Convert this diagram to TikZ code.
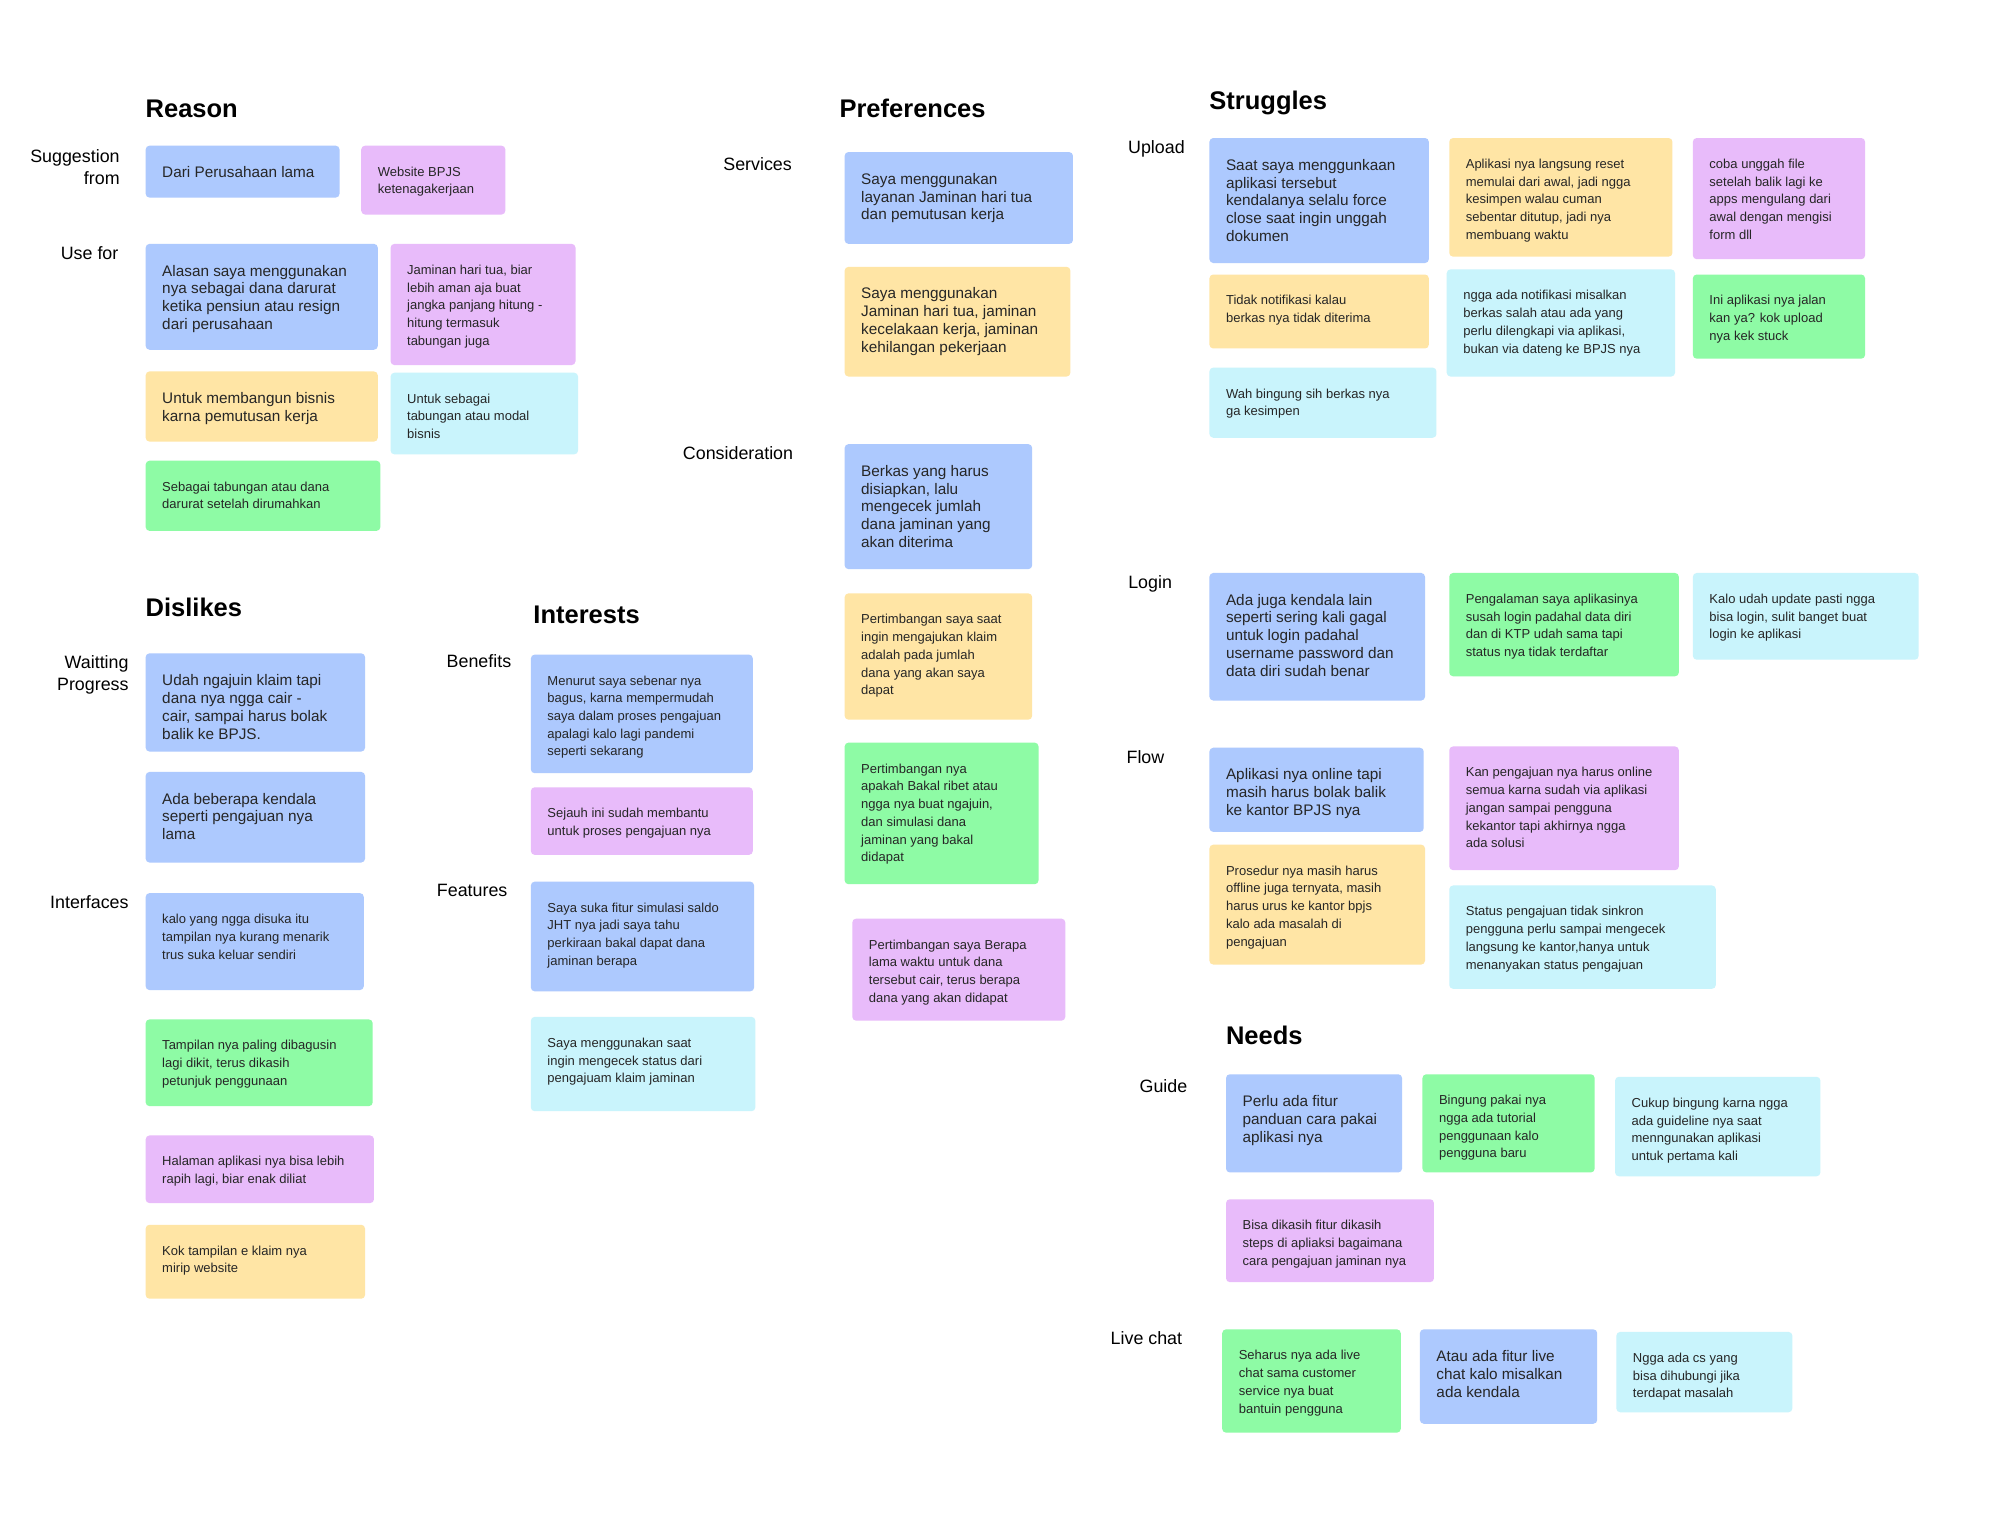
\documentclass[tikz,border=0pt]{standalone}
\usepackage{fontspec}
\setmainfont{Liberation Sans}
\definecolor{cb}{HTML}{ADC9FE}
\definecolor{cy}{HTML}{FFE5A5}
\definecolor{cp}{HTML}{E8BBFA}
\definecolor{cc}{HTML}{C9F4FC}
\definecolor{cg}{HTML}{8EFBA5}
\newcommand\bigf{\fontsize{12}{14}\selectfont}
\newcommand\smf{\fontsize{10.2}{13.9}\selectfont}
\newcommand\nt[8]{%
 \pgfmathsetmacro\nw{#5-#3}\pgfmathsetmacro\nh{#6-#4}%
 \pgfmathsetmacro\tw{#5-#3-26}\pgfmathsetmacro\th{#6-#4-33}%
 \node[note,fill=#2,minimum width=\nw pt,minimum height=\nh pt] (#1) at (#3pt,-#4pt)
  {\parbox[t][\th pt][t]{\tw pt}{\raggedright#7 #8}};}
\newcommand\hd[4]{\node[hdr] (#1) at (#2pt,-#3pt) {#4};}
\newcommand\lb[4]{\node[lbl] (#1) at (#2pt,-#3pt) {#4};}
\tikzset{
 note/.style={anchor=north west,rounded corners=3pt,inner xsep=13pt,inner ysep=16pt,text=black!85},
 hdr/.style={anchor=base west,font=\fontsize{20}{24}\selectfont\bfseries,inner sep=0},
 lbl/.style={anchor=north east,align=right,font=\fontsize{14}{17}\selectfont,inner sep=0}
}
\begin{document}
\begin{tikzpicture}[x=1pt,y=1pt]
\fill[white] (0,0) rectangle (1568,-1195);
\useasboundingbox (0,0) rectangle (1568,-1195);
% Reason
\hd{h1}{114}{92}{Reason}
\lb{l1}{94}{117}{Suggestion\\from}
\nt{n1}{cb}{114}{114}{266}{154}{\bigf}{Dari Perusahaan lama}
\nt{n2}{cp}{283}{114}{396}{168}{\smf}{Website BPJS\\ketenagakerjaan}
\lb{l2}{93}{193}{Use for}
\nt{n3}{cb}{114}{191}{296}{274}{\bigf}{Alasan saya menggunakan\\nya sebagai dana darurat\\ketika pensiun atau resign\\dari perusahaan}
\nt{n4}{cp}{306}{191}{451}{286}{\smf}{Jaminan hari tua, biar\\lebih aman aja buat\\jangka panjang hitung -\\hitung termasuk\\tabungan juga}
\nt{n5}{cy}{114}{291}{296}{346}{\bigf}{Untuk membangun bisnis\\karna pemutusan kerja}
\nt{n6}{cc}{306}{292}{453}{356}{\smf}{Untuk sebagai\\tabungan atau modal\\bisnis}
\nt{n7}{cg}{114}{361}{298}{416}{\smf}{Sebagai tabungan atau dana\\darurat setelah dirumahkan}
% Dislikes
\hd{h2}{114}{483}{Dislikes}
\lb{l3}{101}{514}{Waitting\\Progress}
\nt{n8}{cb}{114}{512}{286}{589}{\bigf}{Udah ngajuin klaim tapi\\dana nya ngga cair -\\cair, sampai harus bolak\\balik ke BPJS.}
\nt{n9}{cb}{114}{605}{286}{676}{\bigf}{Ada beberapa kendala\\seperti pengajuan nya\\lama}
\lb{l4}{101}{702}{Interfaces}
\nt{n10}{cb}{114}{700}{285}{776}{\smf}{kalo yang ngga disuka itu\\tampilan nya kurang menarik\\trus suka keluar sendiri}
\nt{n11}{cg}{114}{799}{292}{867}{\smf}{Tampilan nya paling dibagusin\\lagi dikit, terus dikasih\\petunjuk penggunaan}
\nt{n12}{cp}{114}{890}{293}{943}{\smf}{Halaman aplikasi nya bisa lebih\\rapih lagi, biar enak diliat}
\nt{n13}{cy}{114}{960}{286}{1018}{\smf}{Kok tampilan e klaim nya\\mirip website}
% Interests
\hd{h3}{418}{489}{Interests}
\lb{l5}{401}{513}{Benefits}
\nt{n14}{cb}{416}{513}{590}{606}{\smf}{Menurut saya sebenar nya\\bagus, karna mempermudah\\saya dalam proses pengajuan\\apalagi kalo lagi pandemi\\seperti sekarang}
\nt{n15}{cp}{416}{617}{590}{670}{\smf}{Sejauh ini sudah membantu\\untuk proses pengajuan nya}
\lb{l6}{398}{693}{Features}
\nt{n16}{cb}{416}{691}{591}{777}{\smf}{Saya suka fitur simulasi saldo\\JHT nya jadi saya tahu\\perkiraan bakal dapat dana\\jaminan berapa}
\nt{n17}{cc}{416}{797}{592}{871}{\smf}{Saya menggunakan saat\\ingin mengecek status dari\\pengajuam klaim jaminan}
% Preferences
\hd{h4}{658}{92}{Preferences}
\lb{l7}{621}{123}{Services}
\nt{n18}{cb}{662}{119}{841}{191}{\bigf}{Saya menggunakan\\layanan Jaminan hari tua\\dan pemutusan kerja}
\nt{n19}{cy}{662}{209}{839}{295}{\bigf}{Saya menggunakan\\Jaminan hari tua, jaminan\\kecelakaan kerja, jaminan\\kehilangan pekerjaan}
\lb{l8}{622}{350}{Consideration}
\nt{n20}{cb}{662}{348}{809}{446}{\bigf}{Berkas yang harus\\disiapkan, lalu\\mengecek jumlah\\dana jaminan yang\\akan diterima}
\nt{n21}{cy}{662}{465}{809}{564}{\smf}{Pertimbangan saya saat\\ingin mengajukan klaim\\adalah pada jumlah\\dana yang akan saya\\dapat}
\nt{n22}{cg}{662}{582}{814}{693}{\smf}{Pertimbangan nya\\apakah Bakal ribet atau\\ngga nya buat ngajuin,\\dan simulasi dana\\jaminan yang bakal\\didapat}
\nt{n23}{cp}{668}{720}{835}{800}{\smf}{Pertimbangan saya Berapa\\lama waktu untuk dana\\tersebut cair, terus berapa\\dana yang akan didapat}
% Struggles
\hd{h5}{948}{86}{Struggles}
\lb{l9}{929}{110}{Upload}
\nt{n24}{cb}{948}{108}{1120}{206}{\bigf}{Saat saya menggunkaan\\aplikasi tersebut\\kendalanya selalu force\\close saat ingin unggah\\dokumen}
\nt{n25}{cy}{1136}{108}{1311}{201}{\smf}{Aplikasi nya langsung reset\\memulai dari awal, jadi ngga\\kesimpen walau cuman\\sebentar ditutup, jadi nya\\membuang waktu}
\nt{n26}{cp}{1327}{108}{1462}{203}{\smf}{coba unggah file\\setelah balik lagi ke\\apps mengulang dari\\awal dengan mengisi\\form dll}
\nt{n27}{cy}{948}{215}{1120}{273}{\smf}{Tidak notifikasi kalau\\berkas nya tidak diterima}
\nt{n28}{cc}{1134}{211}{1313}{295}{\smf}{ngga ada notifikasi misalkan\\berkas salah atau ada yang\\perlu dilengkapi via aplikasi,\\bukan via dateng ke BPJS nya}
\nt{n29}{cg}{1327}{215}{1462}{281}{\smf}{Ini aplikasi nya jalan\\kan ya? kok upload\\nya kek stuck}
\nt{n30}{cc}{948}{288}{1126}{343}{\smf}{Wah bingung sih berkas nya\\ga kesimpen}
\lb{l10}{919}{451}{Login}
\nt{n31}{cb}{948}{449}{1117}{549}{\bigf}{Ada juga kendala lain\\seperti sering kali gagal\\untuk login padahal\\username password dan\\data diri sudah benar}
\nt{n32}{cg}{1136}{449}{1316}{530}{\smf}{Pengalaman saya aplikasinya\\susah login padahal data diri\\dan di KTP udah sama tapi\\status nya tidak terdaftar}
\nt{n33}{cc}{1327}{449}{1504}{517}{\smf}{Kalo udah update pasti ngga\\bisa login, sulit banget buat\\login ke aplikasi}
\lb{l11}{913}{588}{Flow}
\nt{n34}{cb}{948}{586}{1116}{652}{\bigf}{Aplikasi nya online tapi\\masih harus bolak balik\\ke kantor BPJS nya}
\nt{n35}{cp}{1136}{585}{1316}{682}{\smf}{Kan pengajuan nya harus online\\semua karna sudah via aplikasi\\jangan sampai pengguna\\kekantor tapi akhirnya ngga\\ada solusi}
\nt{n36}{cy}{948}{662}{1117}{756}{\smf}{Prosedur nya masih harus\\offline juga ternyata, masih\\harus urus ke kantor bpjs\\kalo ada masalah di\\pengajuan}
\nt{n37}{cc}{1136}{694}{1345}{775}{\smf}{Status pengajuan tidak sinkron\\pengguna perlu sampai mengecek\\langsung ke kantor,hanya untuk\\menanyakan status pengajuan}
% Needs
\hd{h6}{961}{819}{Needs}
\lb{l12}{931}{846}{Guide}
\nt{n38}{cb}{961}{842}{1099}{919}{\bigf}{Perlu ada fitur\\panduan cara pakai\\aplikasi nya}
\nt{n39}{cg}{1115}{842}{1250}{919}{\smf}{Bingung pakai nya\\ngga ada tutorial\\penggunaan kalo\\pengguna baru}
\nt{n40}{cc}{1266}{844}{1427}{922}{\smf}{Cukup bingung karna ngga\\ada guideline nya saat\\menngunakan aplikasi\\untuk pertama kali}
\nt{n41}{cp}{961}{940}{1124}{1005}{\smf}{Bisa dikasih fitur dikasih\\steps di apliaksi bagaimana\\cara pengajuan jaminan nya}
\lb{l13}{927}{1044}{Live chat}
\nt{n42}{cg}{958}{1042}{1098}{1123}{\smf}{Seharus nya ada live\\chat sama customer\\service nya buat\\bantuin pengguna}
\nt{n43}{cb}{1113}{1042}{1252}{1116}{\bigf}{Atau ada fitur live\\chat kalo misalkan\\ada kendala}
\nt{n44}{cc}{1267}{1044}{1405}{1107}{\smf}{Ngga ada cs yang\\bisa dihubungi jika\\terdapat masalah}
\end{tikzpicture}
\end{document}
